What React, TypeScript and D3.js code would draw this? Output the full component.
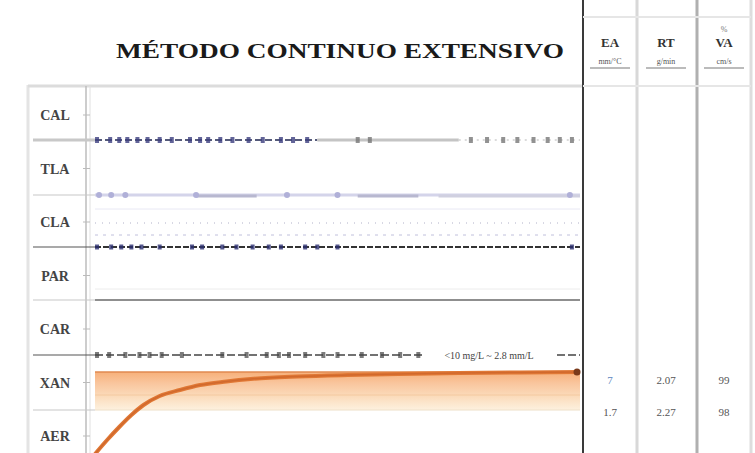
import React from "react";
import * as d3 from "d3";

const W = 755;
const H = 453;

const title = "MÉTODO CONTINUO EXTENSIVO";
const rowLabels = ["CAL", "TLA", "CLA", "PAR", "CAR", "XAN", "AER"];
const rowBoundaries = [140, 195, 247, 300, 355, 410];
const headerCols = ["EA", "RT", "VA"];
const headerUnits = ["mm/°C", "g/min", "cm/s"];
const xanValues = ["7", "2.07", "99"];
const aerValues = ["1.7", "2.27", "98"];

// curve (time in h, value mg/L)
const curveT = [0, 0.6, 1.2, 1.8, 2.4, 3.2, 4.2, 5.2, 6.5, 7.7, 10, 12.5, 15, 18, 21, 24];
const curveV = [0.6, 2.0, 3.3, 4.5, 5.5, 6.4, 7.0, 7.5, 7.85, 8.1, 8.35, 8.5, 8.6, 8.7, 8.75, 8.8];
const bandTop = 8.8;
const bandMid = 6.5;
const bandBottom = 5.0;

// markers along reference lines (time in h)
const calMarks = [0.1, 0.75, 1.2, 1.6, 2.1, 2.6, 3.2, 3.8, 4.7, 5.2, 5.6, 6.2, 6.8, 7.6, 8.3, 9.2, 9.8, 10.5, 13.0, 13.6, 18.6, 19.4, 20.2, 20.9, 21.7, 22.4, 23.0, 23.6];
const tlaMarks = [0.2, 0.8, 1.5, 5.0, 9.5, 12.0, 23.5];
const parMarks = [0.1, 0.8, 1.3, 1.8, 2.3, 3.2, 4.8, 5.3, 6.3, 7.0, 7.8, 8.6, 9.2, 10.4, 11.0, 12.0, 23.6];
const carMarks = [0.1, 0.7, 1.5, 2.2, 2.7, 3.3, 4.3, 6.3, 7.5, 8.5, 9.1, 9.6, 10.4, 11.3, 12.0, 13.2, 14.2, 15.1, 16.0];

const serif = "'Liberation Serif', 'DejaVu Serif', serif";

export default function App() {
  const x = d3.scaleLinear().domain([0, 24]).range([95, 580]);
  const yv = d3.scaleLinear().domain([0, 10]).range([460, 360]);
  const rowY = d3.scalePoint<string>().domain(rowLabels).range([115, 436]);

  const line = d3
    .line<number>()
    .x((_, i) => x(curveT[i]))
    .y((v) => yv(v))
    .curve(d3.curveMonotoneX);

  const colX = [610, 666, 724];

  return (
    <svg
      width={W}
      height={H}
      style={{ position: "absolute", left: 0, top: 0, background: "#fff" }}
      fontFamily={serif}
    >
      <defs>
        <linearGradient id="band" x1="0" y1="0" x2="0" y2="1">
          <stop offset="0" stopColor="#f7b07a" />
          <stop offset="0.3" stopColor="#f9c69e" />
          <stop offset="0.65" stopColor="#fbdcbc" />
          <stop offset="1" stopColor="#fdf1df" />
        </linearGradient>
      </defs>

      {/* frame */}
      <line x1={28} x2={28} y1={85} y2={H} stroke="#e4e4e4" strokeWidth={3} />
      <line x1={28} x2={583} y1={86} y2={86} stroke="#dcdcdc" strokeWidth={3} />
      <line x1={86} x2={86} y1={86} y2={H} stroke="#bdbdbd" strokeWidth={1.5} />
      <line x1={90} x2={90} y1={86} y2={H} stroke="#e0e0e0" strokeWidth={1} />
      <line x1={583} x2={583} y1={0} y2={H} stroke="#3a3a3a" strokeWidth={2} />
      <line x1={637} x2={637} y1={0} y2={H} stroke="#d8d8d8" strokeWidth={3} />
      <line x1={697} x2={697} y1={0} y2={H} stroke="#b0b0b0" strokeWidth={3} />
      <line x1={751} x2={751} y1={0} y2={H} stroke="#dddddd" strokeWidth={3} />
      <line x1={583} x2={751} y1={17} y2={17} stroke="#e6e6e6" strokeWidth={2} />
      <line x1={583} x2={751} y1={86} y2={86} stroke="#e6e6e6" strokeWidth={2} />

      {/* title */}
      <text
        x={340}
        y={58}
        textAnchor="middle"
        fontSize={21}
        fontWeight="bold"
        textLength={448}
        lengthAdjust="spacingAndGlyphs"
        fill="#1a1a1a"
      >
        {title}
      </text>

      {/* header columns */}
      {headerCols.map((h, i) => (
        <g key={h}>
          <text x={colX[i]} y={47} textAnchor="middle" fontSize={13} fontWeight="bold" fill="#333">
            {h}
          </text>
          <text x={colX[i]} y={64} textAnchor="middle" fontSize={8} fill="#555">
            {headerUnits[i]}
          </text>
          <line x1={colX[i] - 20} x2={colX[i] + 20} y1={68} y2={68} stroke="#bbb" strokeWidth={2} />
        </g>
      ))}
      <text x={724} y={32} textAnchor="middle" fontSize={8} fill="#777">%</text>

      {/* row labels */}
      {rowLabels.map((r) => (
        <g key={r}>
          <text x={55} y={(rowY(r) as number) + 5} textAnchor="middle" fontSize={14} fontWeight="bold" fill="#444">
            {r}
          </text>
          <line x1={83} x2={90} y1={rowY(r) as number} y2={rowY(r) as number} stroke="#bbb" />
        </g>
      ))}

      {/* row separators in label area */}
      {rowBoundaries.map((b, i) => (
        <line key={i} x1={33} x2={95} y1={b} y2={b} stroke={i === 2 || i === 4 ? "#555" : "#c8c8c8"} strokeWidth={i === 0 ? 3 : 1.2} />
      ))}

      {/* CAL reference line */}
      <line x1={x(0)} x2={x(11)} y1={140} y2={140} stroke="#555a7a" strokeWidth={2} strokeDasharray="7 3" />
      <line x1={x(11)} x2={x(18)} y1={140} y2={140} stroke="#c4c4c4" strokeWidth={3} />
      <line x1={x(18)} x2={x(24)} y1={140} y2={140} stroke="#cfcfcf" strokeWidth={1.5} strokeDasharray="2 4" />
      {calMarks.map((t, i) => (
        <rect key={i} x={x(t) - 2} y={137} width={4} height={6} fill={t < 12 ? "#3c3f80" : "#777"} opacity={0.8} />
      ))}

      {/* TLA line */}
      <line x1={x(0)} x2={x(24)} y1={195} y2={195} stroke="#d4d4ea" strokeWidth={3} />
      <line x1={x(5)} x2={x(8)} y1={196} y2={196} stroke="#b8b8d0" strokeWidth={3} />
      <line x1={x(13)} x2={x(16)} y1={196} y2={196} stroke="#b8b8d0" strokeWidth={3} />
      <line x1={x(17)} x2={x(24)} y1={196} y2={196} stroke="#d0d0e0" strokeWidth={3} />
      {tlaMarks.map((t, i) => (
        <circle key={i} cx={x(t)} cy={195} r={3} fill="#b0b0d8" />
      ))}

      {/* CLA dotted lines */}
      <line x1={x(0)} x2={x(24)} y1={209} y2={209} stroke="#e8e8f4" strokeWidth={1} />
      <line x1={x(0)} x2={x(24)} y1={223} y2={223} stroke="#b0b0c8" strokeWidth={1} strokeDasharray="1 6" />
      <line x1={x(0)} x2={x(24)} y1={235} y2={235} stroke="#c0c0dc" strokeWidth={1} strokeDasharray="3 5" />

      {/* PAR line */}
      <line x1={x(0)} x2={x(24)} y1={247} y2={247} stroke="#333" strokeWidth={1.8} strokeDasharray="6 2" />
      {parMarks.map((t, i) => (
        <rect key={i} x={x(t) - 2} y={244.5} width={4} height={5} fill="#2b2e70" opacity={0.8} />
      ))}

      {/* CAR line */}
      <line x1={x(0)} x2={x(24)} y1={300} y2={300} stroke="#6a6a6a" strokeWidth={1.5} />
      <line x1={x(0)} x2={x(24)} y1={289} y2={289} stroke="#ececec" strokeWidth={1} />

      {/* XAN reference line */}
      <line x1={x(0)} x2={x(24)} y1={355} y2={355} stroke="#444" strokeWidth={1.5} strokeDasharray="8 3" />
      {carMarks.map((t, i) => (
        <rect key={i} x={x(t) - 2} y={352} width={4} height={6} fill="#444" opacity={0.7} />
      ))}
      <rect x={x(16.2)} y={347} width={x(22.8) - x(16.2)} height={14} fill="#fff" />
      <text x={x(19.5)} y={358.5} textAnchor="middle" fontSize={10} fill="#444">
        &lt;10 mg/L  ~  2.8 mm/L
      </text>

      {/* band */}
      <rect
        x={x(0)}
        y={yv(bandTop)}
        width={x(24) - x(0)}
        height={yv(bandBottom) - yv(bandTop)}
        fill="url(#band)"
      />
      <line x1={x(0)} x2={x(24)} y1={yv(bandMid)} y2={yv(bandMid)} stroke="#f4c9a0" strokeWidth={1} />
      <line x1={x(0)} x2={x(24)} y1={yv(bandBottom)} y2={yv(bandBottom)} stroke="#eee0c8" strokeWidth={1} />
      <line x1={x(0)} x2={x(24)} y1={yv(bandTop)} y2={yv(bandTop)} stroke="#e08a50" strokeWidth={1.5} />

      {/* curve */}
      <path d={line(curveV) ?? ""} fill="none" stroke="#e07835" strokeWidth={4} />
      <path d={line(curveV) ?? ""} fill="none" stroke="#c65f28" strokeWidth={1.5} opacity={0.6} />
      <circle cx={x(24) - 3} cy={yv(curveV[curveV.length - 1])} r={3.5} fill="#7a3a1a" />

      {/* right values */}
      {xanValues.map((v, i) => (
        <text key={"x" + i} x={colX[i]} y={384} textAnchor="middle" fontSize={11} fill={i === 0 ? "#5b86c0" : "#555"}>
          {v}
        </text>
      ))}
      {aerValues.map((v, i) => (
        <text key={"a" + i} x={colX[i]} y={416} textAnchor="middle" fontSize={11} fill="#555">
          {v}
        </text>
      ))}
    </svg>
  );
}
